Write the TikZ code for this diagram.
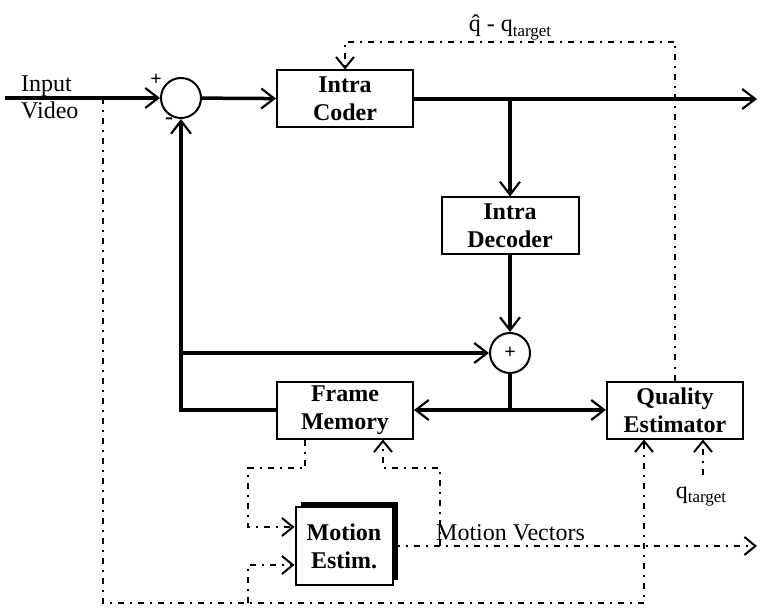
\documentclass[tikz,border=0pt]{standalone}
\usepackage{fontspec}
\setmainfont{Liberation Serif}
\usepackage{tikz}
\usetikzlibrary{arrows.meta, positioning, shadows}
\newcommand{\tsub}[1]{\raisebox{-0.4ex}{\fontsize{17}{17}\selectfont #1}}

\tikzset{
  block/.style={draw, line width=2pt, fill=white, minimum width=136pt, minimum height=57pt,
    align=center, inner sep=2pt, font=\fontsize{24}{28}\selectfont\bfseries},
  sumnode/.style={draw, circle, line width=2pt, minimum size=40pt, inner sep=0pt},
  label/.style={font=\fontsize{24}{28}\selectfont, inner sep=0pt},
  signal/.style={line width=3.5pt, -{Straight Barb[length=13pt, width=20pt, line width=2.2pt]}},
  wire/.style={line width=3.5pt},
  ctrl/.style={line width=2pt, dash pattern=on 6pt off 6pt on 2pt off 6pt},
  ctrlarrow/.style={ctrl, -{Straight Barb[length=11pt, width=18pt, line width=2pt]}}
}

\begin{document}
\begin{tikzpicture}[x=1pt, y=-1pt]
    \useasboundingbox (0,0) rectangle (760,609);

    % Blocks
    \node[sumnode] (sub) at (181,98) {};
    \node[block] (coder) at (345,99) {Intra\\Coder};
    \node[block, minimum width=137pt] (decoder) at (510,226) {Intra\\Decoder};
    \node[sumnode, font=\fontsize{20}{20}\selectfont\bfseries] (add) at (510,353) {+};
    \node[block] (memory) at (345,410) {Frame\\Memory};
    \node[block] (quality) at (675,410) {Quality\\Estimator};
    \node[block, minimum width=97pt, minimum height=78pt,
      drop shadow={shadow xshift=5pt, shadow yshift=5pt, fill=black, opacity=1}] (motion) at (344,546) {Motion\\Estim.};

    % Labels
    \node[label, anchor=base west] (inlbl) at (21,92) {Input};
    \node[label, anchor=base west] (vidlbl) at (21,119) {Video};
    \node[font=\fontsize{20}{20}\selectfont\bfseries, inner sep=0pt] (plus) at (156,80) {+};
    \node[font=\fontsize{24}{24}\selectfont\bfseries, inner sep=0pt] (minus) at (169,121) {-};
    \node[label, anchor=base] (qerr) at (510,32) {\^{q} - q\tsub{target}};
    \node[label, anchor=base] (qtgt) at (701,498) {q\tsub{target}};
    \node[label, anchor=base west] (mvlbl) at (436,540) {Motion Vectors};

    % Junctions
    \coordinate (in) at (5,98);
    \coordinate (out) at (757,99);
    \coordinate (split) at (510,99);
    \coordinate (mid) at (510,410);
    \coordinate (fbtop) at (181,353);
    \coordinate (tap) at (103,98);
    \coordinate (tapbot) at (103,603);
    \coordinate (mebot) at (248,603);
    \coordinate (fmleft) at (248,468);
    \coordinate (retcorner) at (440,468);
    \coordinate (mvsplit) at (440,546);
    \coordinate (mvout) at (757,546);
    \coordinate (qtop) at (675,42);
    \coordinate (ctop) at (345,42);
    \coordinate (qtgtpt) at (703,475);

    % Main signal path
    \draw[signal] (in) -- (sub);
    \draw[signal] (sub) -- (coder);
    \draw[signal] (coder) -- (out);
    \draw[signal] (split) -- (decoder);
    \draw[signal] (decoder) -- (add);
    \draw[signal] (memory.west) -| (sub.south);
    \draw[signal] (fbtop) -- (add.west);
    \draw[wire] (add.south) -- (mid);
    \draw[signal] (mid) -- (memory.east);
    \draw[signal] (mid) -- (quality.west);

    % Control paths
    \draw[ctrlarrow] (quality.north) -- (qtop) -- (ctop) -- (coder.north);
    \draw[ctrlarrow] (tap) -- (tapbot) -| ([xshift=-31pt]quality.south);
    \draw[ctrlarrow] (mebot) |- ([yshift=-19pt]motion.west);
    \draw[ctrlarrow] ([xshift=-40pt]memory.south) |- (fmleft) |- ([yshift=19pt]motion.west);
    \draw[ctrlarrow] (motion.east) -- (mvout);
    \draw[ctrlarrow] (mvsplit) -- (retcorner) -| ([xshift=38pt]memory.south);
    \draw[ctrlarrow] (qtgtpt) -- ([xshift=28pt]quality.south);
\end{tikzpicture}
\end{document}
